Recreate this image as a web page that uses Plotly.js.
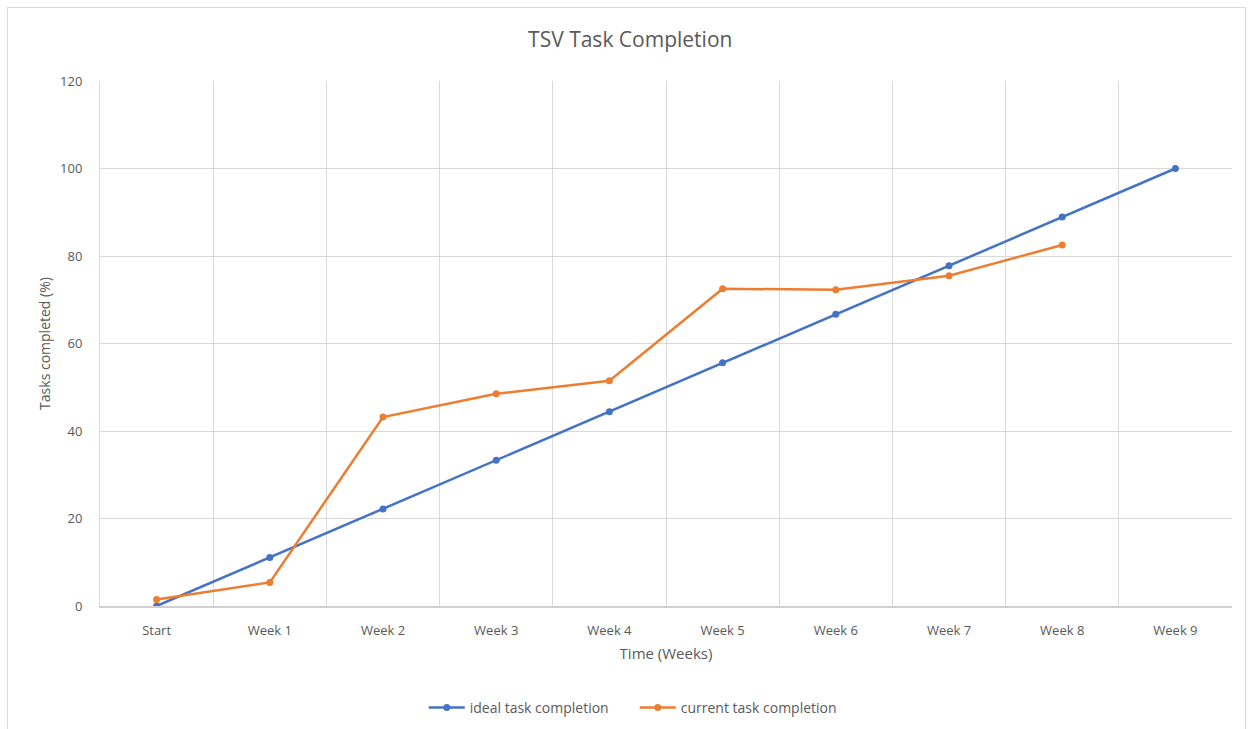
<!DOCTYPE html>
<html>
<head>
<meta charset="utf-8">
<script src="https://cdn.plot.ly/plotly-3.0.1.min.js"></script>
<style>
html,body{margin:0;padding:0;background:#fff;}
#frame{position:absolute;left:7px;top:7px;width:1239px;height:740px;border:1.5px solid #d9d9d9;box-sizing:border-box;pointer-events:none;}
#chart{position:absolute;left:0;top:0;width:1253px;height:729px;}
</style>
</head>
<body>
<div id="chart"></div>
<div id="frame"></div>
<script>
const categories = ["Start","Week 1","Week 2","Week 3","Week 4","Week 5","Week 6","Week 7","Week 8","Week 9"];
const idealCompletion = [0, 11.1, 22.2, 33.3, 44.4, 55.6, 66.7, 77.8, 88.9, 100];
const currentCompletion = [1.5, 5.4, 43.2, 48.5, 51.5, 72.5, 72.3, 75.5, 82.5];
const yTicks = [0, 20, 40, 60, 80, 100, 120];

const font = "Open Sans, Liberation Sans, sans-serif";
const txt = "#595959";

const traces = [
  {x: categories, y: idealCompletion, name: "ideal task completion", type: "scatter", mode: "lines+markers",
   line: {color: "#4472C4", width: 2.5}, marker: {color: "#4472C4", size: 7}},
  {x: categories.slice(0, currentCompletion.length), y: currentCompletion, name: "current task completion", type: "scatter", mode: "lines+markers",
   line: {color: "#ED7D31", width: 2.5}, marker: {color: "#ED7D31", size: 7}}
];

const layout = {
  width: 1253, height: 729,
  margin: {l: 100, r: 21, t: 81, b: 123, autoexpand: false},
  paper_bgcolor: "rgba(0,0,0,0)", plot_bgcolor: "#fff",
  font: {family: font, color: txt, size: 13},
  title: {text: "TSV Task Completion", font: {family: font, size: 21, color: txt}, x: 0.503, xanchor: "center", y: 0.945, yanchor: "middle"},
  xaxis: {
    type: "category", range: [-0.5, 9.5], tickson: "boundaries",
    showgrid: true, gridcolor: "#d9d9d9", gridwidth: 1,
    showline: true, linecolor: "#d0d0d0", linewidth: 1.5, mirror: false,
    ticks: "", ticklabelstandoff: 12, tickfont: {family: font, size: 13, color: txt},
    title: {text: "Time (Weeks)", font: {family: font, size: 15, color: txt}, standoff: 10},
    zeroline: false, fixedrange: true, automargin: false
  },
  yaxis: {
    range: [0, 120], tickvals: yTicks, ticktext: yTicks.map(String),
    showgrid: true, gridcolor: "#d9d9d9", gridwidth: 1,
    showline: true, linecolor: "#d9d9d9", linewidth: 1,
    ticks: "", ticklabelstandoff: 14, tickfont: {family: font, size: 13, color: txt},
    title: {text: "Tasks completed (%)", font: {family: font, size: 14, color: txt}, standoff: 6},
    zeroline: false, fixedrange: true, automargin: false
  },
  showlegend: true,
  legend: {orientation: "h", x: 0.5066, xanchor: "center", xref: "container", yref: "container", y: 0.029, yanchor: "middle",
           font: {family: font, size: 14, color: txt}, itemwidth: 36, entrywidth: 160, entrywidthmode: "pixels", tracegroupgap: 0}
};

Plotly.newPlot("chart", traces, layout, {displayModeBar: false, staticPlot: true});
</script>
</body>
</html>
